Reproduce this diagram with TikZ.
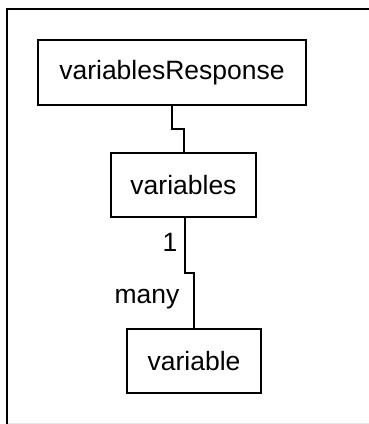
\documentclass[tikz,border=0pt]{standalone}
\usepackage{fontspec}
\setmainfont{Liberation Sans}
\begin{document}
\begin{tikzpicture}[x=1pt,y=-1pt,
  entity/.style={draw,line width=2pt,inner sep=0pt,font=\fontsize{26.5}{30}\selectfont},
  link/.style={line width=2pt},
  mult/.style={font=\fontsize{26.5}{30}\selectfont,inner sep=0pt,anchor=base}]
\useasboundingbox (0,0) rectangle (369,424);
% outer frame
\draw[line width=2.4pt] (369,9) -- (7,9) -- (7,424);
\draw[line width=1pt,black!9] (8,423.5) -- (369,423.5);
% entities
\node[entity,minimum width=268pt,minimum height=65pt] (resp) at (172,72.5) {variablesResponse};
\node[entity,minimum width=145pt,minimum height=64pt] (vars) at (183.5,185) {variables};
\node[entity,minimum width=134pt,minimum height=64pt] (var) at (194,361) {variable};
% connectors
\coordinate (j1) at (172,128.5);
\coordinate (j2) at (184.5,272.5);
\draw[link] (resp.south) -- (j1) -| (vars.north);
\draw[link] (vars.south -| j2) -- (j2) -| (var.north);
% multiplicities
\node[mult] (one) at (170,251) {1};
\node[mult] (many) at (147,303) {many};
\end{tikzpicture}
\end{document}
